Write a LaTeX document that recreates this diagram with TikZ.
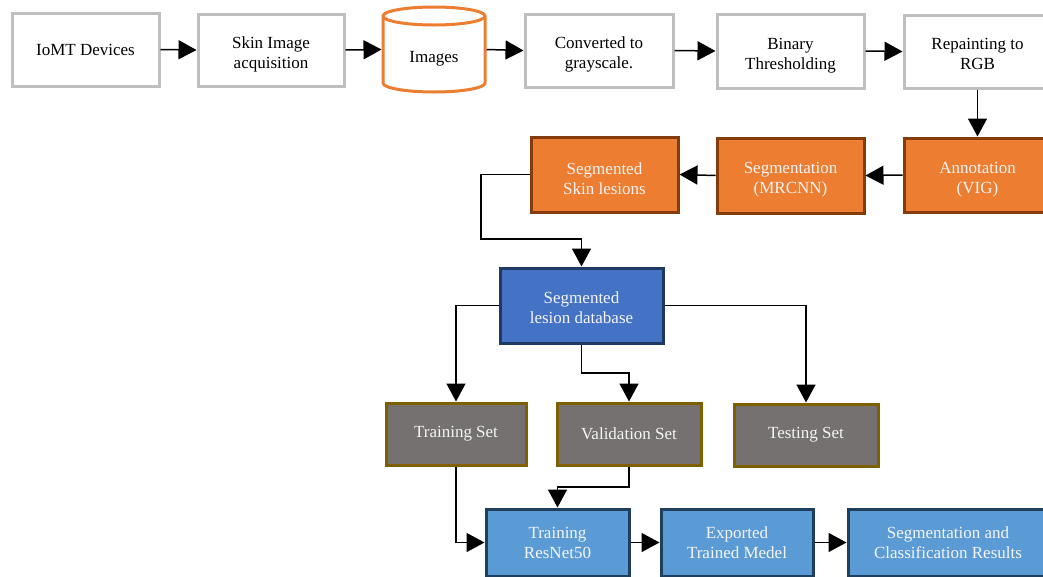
\documentclass[tikz,border=0pt]{standalone}
\usepackage{fontspec}
\setmainfont{Liberation Serif}
\usetikzlibrary{arrows.meta}
\definecolor{boxgray}{HTML}{BFBFBF}
\definecolor{orfill}{HTML}{ED7D31}
\definecolor{ordraw}{HTML}{843C0C}
\definecolor{dbfill}{HTML}{4472C4}
\definecolor{dbdraw}{HTML}{1F3864}
\definecolor{setfill}{HTML}{767171}
\definecolor{setdraw}{HTML}{7F6000}
\definecolor{btfill}{HTML}{5B9BD5}
\definecolor{btdraw}{HTML}{1F3F5F}
\definecolor{txtw}{HTML}{F4F4F4}
\newcommand\tlsA{\rule{0pt}{20pt}}
\newcommand\tlsB{\rule{0pt}{16pt}}
\tikzset{
  base/.style={rectangle, line width=3pt, align=center, inner sep=0pt,
    font=\fontsize{17}{20}\selectfont},
  graybox/.style={base, draw=boxgray, fill=white, text=black},
  orbox/.style={base, draw=ordraw, fill=orfill, text=txtw},
  dbbox/.style={base, draw=dbdraw, fill=dbfill, text=txtw},
  setbox/.style={base, draw=setdraw, fill=setfill, text=txtw},
  btbox/.style={base, draw=btdraw, fill=btfill, text=txtw},
  arr/.style={line width=1.5pt, -{Triangle[length=18pt,width=19pt]}},
  ln/.style={line width=1.5pt}
}
\begin{document}
\begin{tikzpicture}[x=1pt,y=-1pt]
\useasboundingbox (0,0) rectangle (1043,576);
\clip (0,0) rectangle (1043,576);
\fill[white] (0,0) rectangle (1043,576);

% top row
\node[graybox, minimum width=147pt, minimum height=73pt] (iomt) at (85.5,49.5) {IoMT Devices};
\node[graybox, minimum width=146pt, minimum height=72pt] (skin) at (271,50) {\tlsA Skin Image\\acquisition};
% cylinder
\draw[line width=3pt, draw=orfill, fill=white]
  (383,16) -- (383,83) arc[start angle=180, end angle=360, x radius=51pt, y radius=9pt]
  -- (485,16) arc[start angle=0, end angle=180, x radius=51pt, y radius=9pt] -- cycle;
\draw[line width=3pt, draw=orfill] (383,16) arc[start angle=180, end angle=360, x radius=51pt, y radius=9pt];
\node[base, minimum width=102pt, minimum height=85pt, text=black, text height=30pt, text depth=4pt] (images) at (434,49.5) {Images};
\node[graybox, minimum width=148pt, minimum height=73pt] (conv) at (599,50.5) {\tlsA Converted to\\grayscale.};
\node[graybox, minimum width=147pt, minimum height=74pt] (bin) at (790.5,51) {\tlsA Binary\\Thresholding};
\node[graybox, minimum width=147pt, minimum height=73pt] (rep) at (977.5,51.5) {\tlsB Repainting to\\RGB};

% second row
\node[orbox, minimum width=147pt, minimum height=74pt] (ann) at (977.5,175) {\tlsA Annotation\\(VIG)};
\node[orbox, minimum width=147pt, minimum height=75pt] (segm) at (790.5,175.5) {\tlsA Segmentation\\(MRCNN)};
\node[orbox, minimum width=147pt, minimum height=75pt] (sskin) at (604.5,174.5) {\tlsA Segmented\\Skin lesions};

% database
\node[dbbox, minimum width=163pt, minimum height=75pt] (db) at (581.5,305.5) {\tlsB Segmented\\lesion database};

% sets
\node[setbox, minimum width=140pt, minimum height=62pt] (trs) at (456,434) {Training Set};
\node[setbox, minimum width=144pt, minimum height=62pt] (vas) at (629,434) {Validation Set};
\node[setbox, minimum width=144pt, minimum height=62pt] (tes) at (806,435) {Testing Set};

% bottom row
\node[btbox, minimum width=143pt, minimum height=67pt] (trn) at (557.5,542.5) {Training\\ResNet50};
\node[btbox, minimum width=152pt, minimum height=67pt] (exp) at (737,542.5) {Exported\\Trained Medel};
\node[btbox, minimum width=200pt, minimum height=67pt] (res) at (948,542.5) {Segmentation and\\Classification Results};

% coordinates
\coordinate (c1) at (481,239);
\coordinate (v1) at (581.5,373);
\coordinate (v2) at (629,487);

% connectors
\draw[arr] (iomt.east) -- (skin.west);
\draw[arr] (skin.east) -- (images.west);
\draw[arr] (images.east) -- (conv.west);
\draw[arr] (conv.east) -- (bin.west);
\draw[arr] (bin.east) -- (rep.west);
\draw[arr] (rep.south) -- (ann.north);
\draw[arr] (ann.west) -- (segm.east);
\draw[arr] (segm.west) -- (sskin.east);
\draw[arr] (sskin.west) -| (c1) -| (db.north);
\draw[arr] (db.west) -| (trs.north);
\draw[arr] (db.east) -| (tes.north);
\draw[arr] (db.south) -- (v1) -| (vas.north);
\draw[arr] (trs.south) |- (trn.west);
\draw[arr] (vas.south) -- (v2) -| (trn.north);
\draw[arr] (trn.east) -- (exp.west);
\draw[arr] (exp.east) -- (res.west);
\end{tikzpicture}
\end{document}
